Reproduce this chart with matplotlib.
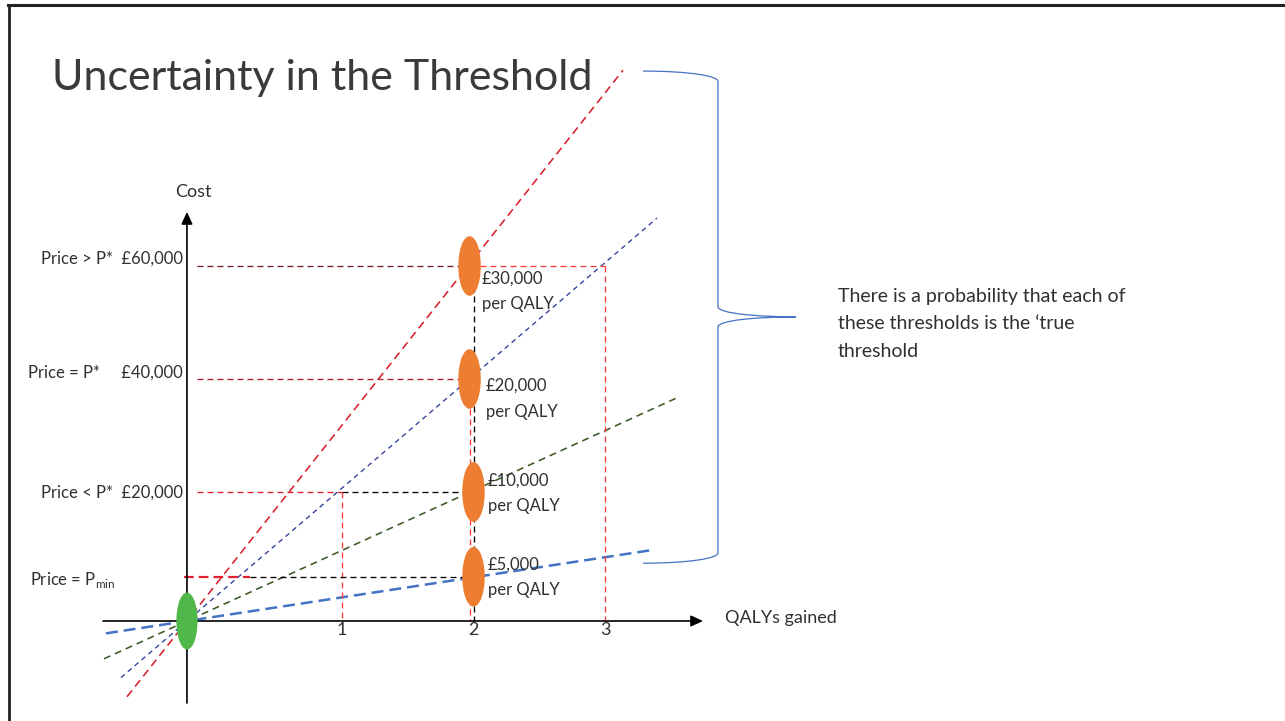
import matplotlib.pyplot as plt
from matplotlib.patches import Ellipse, PathPatch
from matplotlib.path import Path
from matplotlib.lines import Line2D

plt.rcParams['font.family'] = ['Lato', 'DejaVu Sans']
plt.rcParams['lines.scale_dashes'] = False

# threshold lines (GBP per QALY); drawn slopes
thresholds = [30000, 20000, 10000, 5000]
threshold_labels = ['£30,000\nper QALY', '£20,000\nper QALY',
                    '£10,000\nper QALY', '£5,000\nper QALY']
drawn_slopes = [29400, 19950, 10600, 3550]
line_start_q = [-0.635, -0.681, -0.810, -0.795]
line_end_q = [3.137, 3.395, 3.555, 3.365]
line_colors = ['#d8202e', '#2e3c9c', '#3b5a26', '#4472c4']
line_widths = [1.15, 0.95, 1.15, 1.8]
line_dashes = [(5.8, 3.6), (3.6, 2.9), (5.0, 3.6), (8.6, 4.3)]

# price levels on the cost axis
price_levels = [60000, 40000, 20000, 5000]
price_labels = ['Price > P*  £60,000', 'Price = P*     £40,000',
                'Price < P*  £20,000', 'Price = P$_{\\mathregular{min}}$']
dot_q = [1.97, 1.97, 2.0, 2.0]
qaly_ticks = [1, 2, 3]

# where the drawn axes cross (slightly off the true zero on the slide)
q0, c0 = -0.179, -2832

txt = '#303030'
red = '#ff3b3b'

fig = plt.figure(figsize=(12.85, 7.21), dpi=100)
ax = fig.add_axes([0, 0, 1, 1])
ax.set_xlim(-1.6008, 8.1711)
ax.set_ylim(-20531, 107080)
ax.axis('off')

# slide frame
fig.add_artist(Line2D([0.006, 1], [0.993, 0.993], transform=fig.transFigure, color='#222222', lw=2.2))
fig.add_artist(Line2D([0.007, 0.007], [0, 0.993], transform=fig.transFigure, color='#222222', lw=2.0))

ax.text(-1.205, 91150, 'Uncertainty in the Threshold', fontsize=31, fontweight='normal',
        color='#3a3a3a', ha='left', va='baseline')

# axes with arrows
arrow = dict(arrowstyle='-|>,head_length=0.6,head_width=0.28', mutation_scale=12,
             color='black', lw=1.2, shrinkA=0, shrinkB=0)
ax.annotate('', xy=(3.745, c0), xytext=(-0.817, c0), arrowprops=arrow)
ax.annotate('', xy=(q0, 69558), xytext=(q0, -17345), arrowprops=arrow)
ax.text(-0.133, 73097, 'Cost', fontsize=13, color=txt, ha='center', va='center')
ax.text(3.913, -2301, 'QALYs gained', fontsize=13, color=txt, ha='left', va='center')
for q in qaly_ticks:
    ax.text(q, -4425, str(q), fontsize=13, color=txt, ha='center', va='center')

# threshold lines through the origin
for s, qs, qe, col, lw, ds in zip(drawn_slopes, line_start_q, line_end_q,
                                  line_colors, line_widths, line_dashes):
    ax.plot([qs, qe], [c0 + s * (qs - q0), c0 + s * (qe - q0)],
            color=col, lw=lw, dashes=ds, zorder=2)

# reference dashed lines
dk = dict(lw=0.95, dashes=(4.3, 2.9), zorder=2)
ax.plot([-0.103, 1.97], [60000, 60000], color='#6e2020', **dk)
ax.plot([1.97, 3.0], [60000, 60000], color=red, **dk)
ax.plot([3.0, 3.0], [60000, c0], color=red, **dk)
ax.plot([2.0, 2.0], [60000, c0], color='black', **dk)
ax.plot([-0.103, 1.97], [40000, 40000], color='#b01c2a', **dk)
ax.plot([1.97, 1.97], [40000, c0], color=red, **dk)
ax.plot([-0.103, 1.0], [20000, 20000], color='#e02030', **dk)
ax.plot([1.0, 2.0], [20000, 20000], color='black', **dk)
ax.plot([1.0, 1.0], [20000, c0], color=red, **dk)
ax.plot([-0.2, 0.30], [5000, 5000], color='#e02030', lw=1.6, dashes=(7, 3.6), zorder=2)
ax.plot([0.30, 2.0], [5000, 5000], color='black', **dk)

# price points and origin
for q, c in zip(dot_q, price_levels):
    ax.add_patch(Ellipse((q, c), 0.16, 10300, color='#ed7d31', zorder=4))
ax.add_patch(Ellipse((q0, c0), 0.15, 9800, color='#4fb848', zorder=4))

for lab, q, c in zip(threshold_labels, [2.065, 2.095, 2.11, 2.11], [55500, 36500, 19800, 4900]):
    ax.text(q, c, lab, fontsize=12, color=txt, ha='left', va='center', linespacing=1.75, zorder=5)

for lab, c in zip(price_labels[:3], [61239, 41062, 19823]):
    ax.text(-0.209, c, lab, fontsize=12, color=txt, ha='right', va='center')
ax.text(-1.373, 4425, price_labels[3], fontsize=12, color=txt, ha='left', va='center')

# curly brace grouping the thresholds
tip, spine, mid_q = 3.289, 3.859, 4.452
top, mid, bot = 94500, 51000, 7400
verts = [(tip, top), (tip + 0.36, top), (spine, top - 900), (spine, top - 1800),
         (spine, mid + 1800),
         (spine, mid + 600), (spine + 0.3, mid), (mid_q, mid),
         (spine + 0.3, mid), (spine, mid - 600), (spine, mid - 1800),
         (spine, bot + 1800),
         (spine, bot + 900), (tip + 0.36, bot), (tip, bot)]
codes = [Path.MOVETO, Path.CURVE4, Path.CURVE4, Path.CURVE4, Path.LINETO,
         Path.CURVE4, Path.CURVE4, Path.CURVE4, Path.CURVE4, Path.CURVE4, Path.CURVE4,
         Path.LINETO, Path.CURVE4, Path.CURVE4, Path.CURVE4]
ax.add_patch(PathPatch(Path(verts, codes), fill=False, edgecolor='#4472c4', lw=0.9))

ax.text(4.772, 49735, 'There is a probability that each of\nthese thresholds is the \u2018true\nthreshold',
        fontsize=14, color=txt, ha='left', va='center', linespacing=1.75)

fig.savefig('out.png', dpi=100)
